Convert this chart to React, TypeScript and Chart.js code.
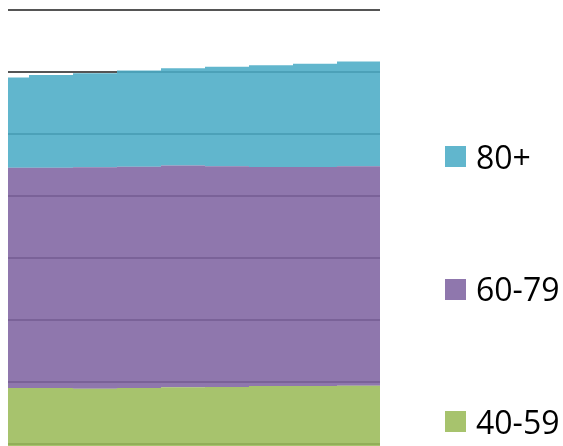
import React, { useEffect, useRef } from "react";
import { Chart, registerables } from "chart.js";

Chart.register(...registerables);

// x positions of the periods (the first one is only half visible)
const periods = [0, 1, 2, 3, 4, 5, 6, 7, 8];

const seriesLabels = ["40-59", "60-79", "80+"];
const age40to59 = [19.05, 19.05, 18.9, 19.05, 19.15, 19.2, 19.35, 19.35, 19.4];
const age60to79 = [35.55, 35.55, 35.77, 35.72, 35.81, 35.63, 35.37, 35.37, 35.43];
const age80plus = [14.57, 14.97, 15.18, 15.52, 15.71, 16.06, 16.42, 16.66, 16.92];
const seriesValues = [age40to59, age60to79, age80plus];

const yMin = 0;
const yMax = 80;
const yStep = 10;

const fills = [
  "rgba(155,187,89,0.88)",
  "rgba(128,100,162,0.88)",
  "rgba(75,172,198,0.88)",
];

export default function App() {
  const ref = useRef<HTMLCanvasElement | null>(null);

  useEffect(() => {
    const canvas = ref.current;
    if (!canvas) return;
    const xMin = 0.5 - 21 / 44;
    const chart = new Chart(canvas, {
      type: "bar",
      data: {
        datasets: seriesLabels.map((label, i) => ({
          label,
          data: periods.map((x, j) => ({ x, y: seriesValues[i][j] })),
          backgroundColor: fills[i],
          borderWidth: 0,
          inflateAmount: 0,
          barThickness: 44,
          clip: 0,
        })),
      },
      options: {
        responsive: false,
        animation: false,
        events: [],
        layout: { padding: { top: 2.4, bottom: 2.1, left: 0, right: 183 } },
        plugins: {
          legend: { display: false },
          tooltip: { enabled: false },
        },
        scales: {
          x: {
            type: "linear",
            display: false,
            stacked: true,
            offset: false,
            min: xMin,
            max: xMin + 372 / 44,
          },
          y: {
            stacked: true,
            min: yMin,
            max: yMax,
            ticks: { display: false, stepSize: yStep },
            grid: { color: "#555555", lineWidth: 2, drawTicks: false },
            border: { display: false },
          },
        },
      },
    } as any);
    return () => chart.destroy();
  }, []);

  const legendOrder = [2, 1, 0];

  return (
    <div
      style={{
        position: "fixed",
        left: 8,
        top: 8,
        width: 555,
        height: 438,
        overflow: "hidden",
      }}
    >
      <canvas ref={ref} width={555} height={500} style={{ display: "block" }} />
      <div
        style={{
          position: "absolute",
          left: 437,
          top: 132.5,
          display: "flex",
          flexDirection: "column",
          gap: 100.5,
        }}
      >
        {legendOrder.map((i) => (
          <div
            key={seriesLabels[i]}
            style={{ display: "flex", alignItems: "center", height: 32 }}
          >
            <span
              style={{
                display: "inline-block",
                width: 21,
                height: 21,
                background: fills[i],
                marginRight: 10,
              }}
            />
            <span
              style={{
                fontFamily: "'Open Sans', sans-serif",
                fontSize: 32,
                lineHeight: "32px",
                color: "#000",
                whiteSpace: "nowrap",
              }}
            >
              {seriesLabels[i]}
            </span>
          </div>
        ))}
      </div>
    </div>
  );
}
